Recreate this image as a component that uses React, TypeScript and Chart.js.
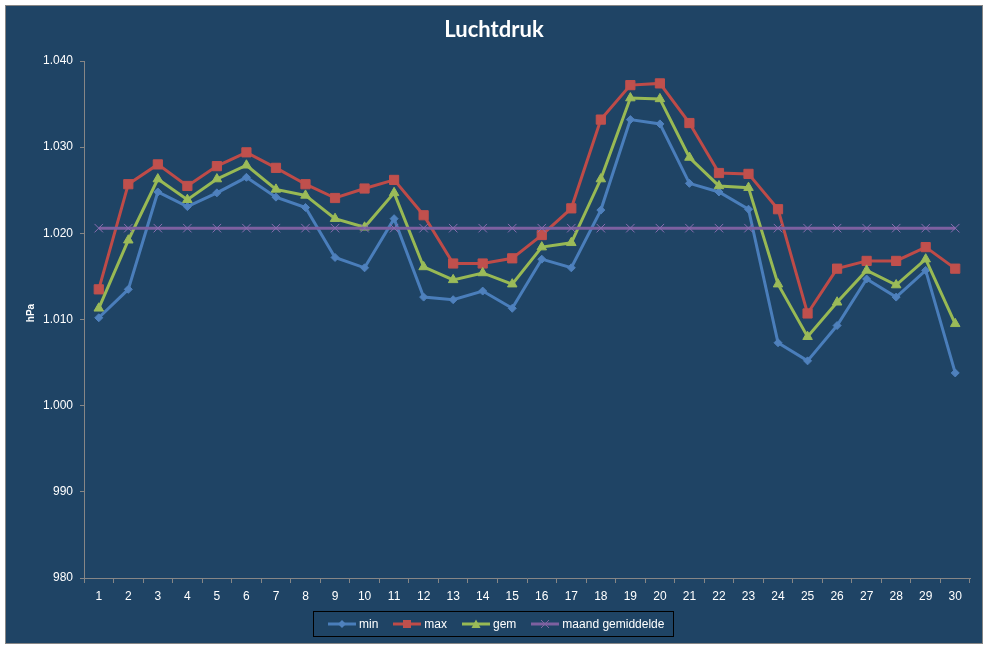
import { useEffect, useRef } from 'react'
import { Chart, ChartConfiguration, registerables } from 'chart.js'

Chart.register(...registerables)

// Chart data
const chartTitle = 'Luchtdruk'
const yAxisTitle = 'hPa'
const days = ['1', '2', '3', '4', '5', '6', '7', '8', '9', '10', '11', '12', '13', '14', '15', '16', '17', '18', '19', '20', '21', '22', '23', '24', '25', '26', '27', '28', '29', '30']
const minValues = [1010.2, 1013.5, 1024.8, 1023.1, 1024.7, 1026.5, 1024.2, 1023.0, 1017.2, 1016.0, 1021.7, 1012.6, 1012.3, 1013.3, 1011.3, 1017.0, 1016.0, 1022.7, 1033.2, 1032.7, 1025.8, 1024.8, 1022.8, 1007.3, 1005.2, 1009.3, 1014.7, 1012.6, 1015.7, 1003.8]
const maxValues = [1013.5, 1025.7, 1028.0, 1025.5, 1027.8, 1029.4, 1027.6, 1025.7, 1024.1, 1025.2, 1026.2, 1022.1, 1016.5, 1016.5, 1017.1, 1019.8, 1022.9, 1033.2, 1037.2, 1037.4, 1032.8, 1027.0, 1026.9, 1022.8, 1010.7, 1015.9, 1016.8, 1016.8, 1018.4, 1015.9]
const gemValues = [1011.3, 1019.2, 1026.3, 1023.9, 1026.3, 1027.9, 1025.1, 1024.4, 1021.7, 1020.7, 1024.7, 1016.1, 1014.6, 1015.4, 1014.1, 1018.4, 1018.9, 1026.3, 1035.7, 1035.6, 1028.8, 1025.5, 1025.3, 1014.1, 1008.0, 1012.0, 1015.7, 1014.0, 1017.0, 1009.5]
const maandGemiddelde = 1020.6
const yTicks = [980, 990, 1000, 1010, 1020, 1030, 1040]

const seriesNames = ['min', 'max', 'gem', 'maand gemiddelde']
const lineColors = ['#4A7EBB', '#BE4B48', '#98B954', '#7D60A0']
const markerColors = ['#4F81BD', '#C0504D', '#9BBB59', '#8064A2']

const BG = '#1F4465'
const AXIS = '#868686'
const FONT = "'Liberation Sans', Arial, sans-serif"

// Dutch thousands separator: 1040 -> 1.040
const formatHpa = (v: number) => {
  const s = String(Math.round(v))
  return s.length > 3 ? s.slice(0, -3) + '.' + s.slice(-3) : s
}

// chart title and rotated y axis title
const titlePlugin = {
  id: 'chartTitle',
  afterDraw(chart: Chart) {
    const ctx = chart.ctx
    ctx.save()
    ctx.font = "bold 22px Lato, 'Open Sans', sans-serif"
    ctx.fillStyle = '#FFFFFF'
    ctx.textAlign = 'center'
    ctx.textBaseline = 'alphabetic'
    ctx.fillText(chartTitle, chart.width / 2, 31)

    ctx.translate(25, 307)
    ctx.rotate(-Math.PI / 2)
    ctx.font = `bold 10px ${FONT}`
    ctx.textBaseline = 'middle'
    ctx.fillText(yAxisTitle, 0, 0)
    ctx.restore()
  }
}

const LegendSymbol = ({ index }: { index: number }) => {
  const c = markerColors[index]
  let marker = null
  if (index === 0) marker = <polygon points="14,2 18,6 14,10 10,6" fill={c} />
  if (index === 1) marker = <rect x={10} y={2} width={8} height={8} fill={c} />
  if (index === 2) marker = <polygon points="14,1.5 18.5,10 9.5,10" fill={c} />
  if (index === 3) marker = (
    <g stroke={c} strokeWidth={1}>
      <line x1={10} y1={2} x2={18} y2={10} />
      <line x1={18} y1={2} x2={10} y2={10} />
    </g>
  )
  return (
    <svg width={28} height={12} style={{ display: 'block' }}>
      <line x1={0} y1={6} x2={28} y2={6} stroke={lineColors[index]} strokeWidth={3} />
      {marker}
    </svg>
  )
}

const App = () => {
  const canvasRef = useRef<HTMLCanvasElement>(null)

  useEffect(() => {
    if (!canvasRef.current) return
    const ctx = canvasRef.current.getContext('2d')
    if (!ctx) return

    const config: ChartConfiguration = {
      type: 'line',
      data: {
        labels: days,
        datasets: [
          {
            label: seriesNames[0],
            data: minValues,
            borderColor: lineColors[0],
            backgroundColor: markerColors[0],
            pointBorderColor: markerColors[0],
            borderWidth: 3,
            pointStyle: 'rectRot',
            pointRadius: 4,
            pointBorderWidth: 1,
            order: 3
          },
          {
            label: seriesNames[1],
            data: maxValues,
            borderColor: lineColors[1],
            backgroundColor: markerColors[1],
            pointBorderColor: markerColors[1],
            borderWidth: 3,
            pointStyle: 'rect',
            pointRadius: 6.5,
            pointBorderWidth: 1,
            order: 2
          },
          {
            label: seriesNames[2],
            data: gemValues,
            borderColor: lineColors[2],
            backgroundColor: markerColors[2],
            pointBorderColor: markerColors[2],
            borderWidth: 3,
            pointStyle: 'triangle',
            pointRadius: 5.5,
            pointBorderWidth: 1,
            order: 1
          },
          {
            label: seriesNames[3],
            data: days.map(() => maandGemiddelde),
            borderColor: lineColors[3],
            backgroundColor: markerColors[3],
            pointBorderColor: '#8A6DB0',
            borderWidth: 3,
            pointStyle: 'crossRot',
            pointRadius: 6,
            pointBorderWidth: 1,
            order: 0
          }
        ]
      },
      options: {
        responsive: false,
        animation: false,
        layout: {
          padding: { top: 55, bottom: 35, left: 0, right: 12 }
        },
        elements: {
          line: { tension: 0 }
        },
        plugins: {
          legend: { display: false },
          tooltip: { enabled: false }
        },
        scales: {
          x: {
            offset: true,
            grid: {
              offset: true,
              drawOnChartArea: false,
              drawTicks: true,
              tickLength: 5,
              color: AXIS
            },
            border: { color: AXIS, width: 1 },
            ticks: {
              color: '#FFFFFF',
              font: { family: FONT, size: 12 },
              padding: 6,
              maxRotation: 0,
              autoSkip: false
            },
            afterFit: (scale: any) => {
              scale.height = 30
            }
          },
          y: {
            min: 980,
            max: 1040,
            grid: {
              drawOnChartArea: false,
              drawTicks: true,
              tickLength: 4,
              color: AXIS
            },
            border: { color: AXIS, width: 1 },
            ticks: {
              color: '#FFFFFF',
              font: { family: FONT, size: 12 },
              padding: 7,
              callback: (value: any) => formatHpa(Number(value))
            },
            afterBuildTicks: (scale: any) => {
              scale.ticks = yTicks.map(v => ({ value: v }))
            },
            afterFit: (scale: any) => {
              scale.width = 78
            }
          }
        }
      } as any,
      plugins: [titlePlugin]
    }

    const chart = new Chart(ctx, config)
    return () => {
      chart.destroy()
    }
  }, [])

  return (
    <div style={{ position: 'absolute', left: 0, top: 0, width: 987, height: 648, background: '#FFFFFF' }}>
      <div
        style={{
          position: 'absolute',
          left: 5,
          top: 5,
          width: 976,
          height: 637,
          background: BG,
          border: `1px solid ${AXIS}`
        }}
      >
        <canvas ref={canvasRef} width={976} height={637} style={{ display: 'block' }} />
      </div>
      <div
        style={{
          position: 'absolute',
          left: 313,
          top: 611,
          width: 361,
          height: 26,
          boxSizing: 'border-box',
          border: '1px solid #000000',
          display: 'flex',
          alignItems: 'center',
          paddingLeft: 14,
          gap: 15,
          fontFamily: FONT,
          fontSize: 12,
          color: '#FFFFFF'
        }}
      >
        {seriesNames.map((name, i) => (
          <div key={name} style={{ display: 'flex', alignItems: 'center', gap: 3 }}>
            <LegendSymbol index={i} />
            <span>{name}</span>
          </div>
        ))}
      </div>
    </div>
  )
}

export default App
